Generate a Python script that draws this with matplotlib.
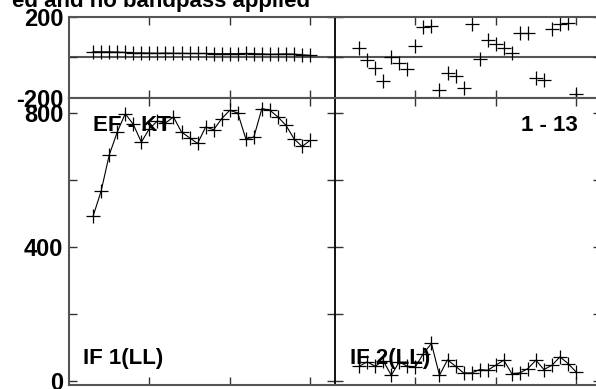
import numpy as np
import matplotlib.pyplot as plt

plt.rcParams['font.family'] = ['Liberation Sans', 'DejaVu Sans']
plt.rcParams['font.weight'] = 'bold'
plt.rcParams['font.size'] = 16

# sample index (time bins) shared by all four panels
t = list(range(3, 31))

# IF 1 (left panels)
amp_if1 = [493, 568, 675, 744, 799, 767, 714, 754, 777, 771, 789, 744, 727, 710,
           759, 751, 784, 809, 801, 724, 729, 814, 809, 789, 764, 724, 701, 719]
phs_if1 = [28, 27, 27, 26, 24, 22, 22, 21, 20, 21, 20, 20, 19, 19,
           19, 18, 18, 18, 18, 19, 18, 17, 15, 16, 17, 16, 12, 10]

# IF 2 (right panels)
amp_if2 = [45, 58, 45, 61, 18, 58, 45, 43, 83, 113, 18, 64, 45, 25,
           25, 35, 33, 48, 63, 23, 25, 38, 63, 35, 48, 73, 53, 28]
phs_if2 = [44, -13, -51, -116, 0, -30, -59, 56, 148, 155, -161, -76, -92, -153,
           164, -10, 85, 64, 44, 23, 121, 121, -101, -112, 138, 164, 168, -181]

W, H = 596, 389
fig = plt.figure(figsize=(W / 100, H / 100), dpi=100)


def box(x0, y_top, y_bot, w=266):
    return [x0 / W, 1 - y_bot / H, w / W, (y_bot - y_top) / H]


ax_pl = fig.add_axes(box(69, 16.7, 98))
ax_al = fig.add_axes(box(69, 98, 385))
ax_pr = fig.add_axes(box(335, 16.7, 98))
ax_ar = fig.add_axes(box(335, 98, 385))

for ax in (ax_pl, ax_al, ax_pr, ax_ar):
    ax.set_xlim(0, 33.1)
    ax.set_xticks([10, 20, 30])
    ax.set_xticklabels([])
    ax.tick_params(direction='in', length=6, width=1, top=True, right=True,
                   color='#333333', labelsize=17, pad=4)
    for s in ax.spines.values():
        s.set_color('#555555')
        s.set_linewidth(1.5)

# shared middle border drawn once, thin and black
for ax in (ax_pl, ax_al):
    ax.spines['right'].set_visible(False)
for ax in (ax_pr, ax_ar):
    ax.spines['left'].set_color('black')
    ax.spines['left'].set_linewidth(1.3)

for ax in (ax_pl, ax_pr):
    ax.set_ylim(-200, 200)
    ax.set_yticks([-200, 0, 200])
    ax.axhline(0, color='#555555', lw=1.5, zorder=1)
for ax in (ax_al, ax_ar):
    ax.set_ylim(-11, 845.7)
    ax.set_yticks([0, 200, 400, 600, 800])

ax_pl.set_yticklabels(['-200', '', '200'])
ax_al.set_yticklabels(['0', '', '400', '', '800'])
ax_pr.set_yticklabels([])
ax_ar.set_yticklabels([])

mk = dict(marker='+', markersize=10, mew=0.9, color='black')
ax_pl.plot(t, phs_if1, lw=0.8, **mk)
ax_al.plot(t, amp_if1, lw=0.8, **mk)
ax_pr.plot(t, phs_if2, lw=0, **mk)
ax_ar.plot(t, amp_if2, lw=0.8, **mk)

ax_al.text(0.09, 0.885, 'EF - KT', transform=ax_al.transAxes, va='baseline')
ax_ar.text(0.9135, 0.885, '1 - 13', transform=ax_ar.transAxes, va='baseline', ha='right')
ax_al.text(0.053, 0.073, 'IF 1(LL)', transform=ax_al.transAxes, va='baseline')
ax_ar.text(0.056, 0.073, 'IF 2(LL)', transform=ax_ar.transAxes, va='baseline')

fig.text(310 / W, 1 - 6.7 / H, 'ed and no bandpass applied', ha='right', va='baseline')

fig.savefig('out.png', dpi=100)
